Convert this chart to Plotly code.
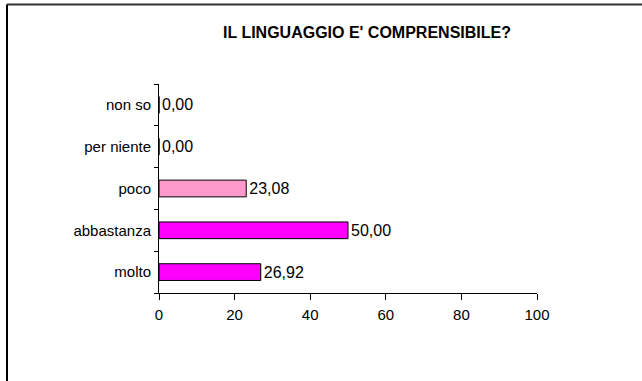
import plotly.graph_objects as go

categories = ["molto", "abbastanza", "poco", "per niente", "non so"]
values = [26.92, 50.00, 23.08, 0.00, 0.00]
bar_colors = ["#FF00FF", "#FF00FF", "#FF99CC", "#FF99CC", "#FF99CC"]
x_ticks = [0, 20, 40, 60, 80, 100]
title_text = "IL LINGUAGGIO E' COMPRENSIBILE?"

labels = [f"{v:.2f}".replace(".", ",") for v in values]

FONT = "Liberation Sans, Arial, sans-serif"

fig = go.Figure(
    go.Bar(
        x=values,
        y=categories,
        orientation="h",
        marker=dict(color=bar_colors, line=dict(color="black", width=1)),
        text=labels,
        textposition="outside",
        constraintext="none",
        textfont=dict(family=FONT, size=16, color="black"),
        cliponaxis=False,
        width=0.4,
    )
)

fig.update_layout(
    width=642,
    height=381,
    margin=dict(l=159, r=105, t=84, b=88),
    paper_bgcolor="white",
    plot_bgcolor="white",
    showlegend=False,
    font=dict(family=FONT, size=15, color="black"),
    title=dict(
        text="<b>" + title_text + "</b>",
        x=367 / 642,
        xanchor="center",
        xref="container",
        y=1 - 32 / 381,
        yanchor="middle",
        yref="container",
        font=dict(family=FONT, size=16, color="black"),
    ),
    xaxis=dict(
        range=[0, 100],
        tickvals=x_ticks,
        ticks="outside",
        ticklen=6,
        tickcolor="black",
        showline=True,
        linecolor="black",
        linewidth=1,
        showgrid=False,
        zeroline=False,
        tickfont=dict(size=15),
        ticklabelstandoff=2,
    ),
    yaxis=dict(
        ticks="outside",
        tickson="boundaries",
        ticklen=4,
        tickcolor="black",
        showline=True,
        linecolor="black",
        linewidth=1,
        showgrid=False,
        tickfont=dict(size=15),
        ticklabelstandoff=4,
    ),
    shapes=[
        dict(type="line", xref="paper", yref="paper",
             x0=(7 - 159) / 378, x1=(700 - 159) / 378,
             y0=(293 - 4.5) / 209, y1=(293 - 4.5) / 209,
             line=dict(color="#333333", width=2)),
        dict(type="line", xref="paper", yref="paper",
             x0=(7 - 159) / 378, x1=(7 - 159) / 378,
             y0=(293 - 4.5) / 209, y1=(293 - 420) / 209,
             line=dict(color="black", width=2)),
    ],
)

fig.write_html("out.html")
